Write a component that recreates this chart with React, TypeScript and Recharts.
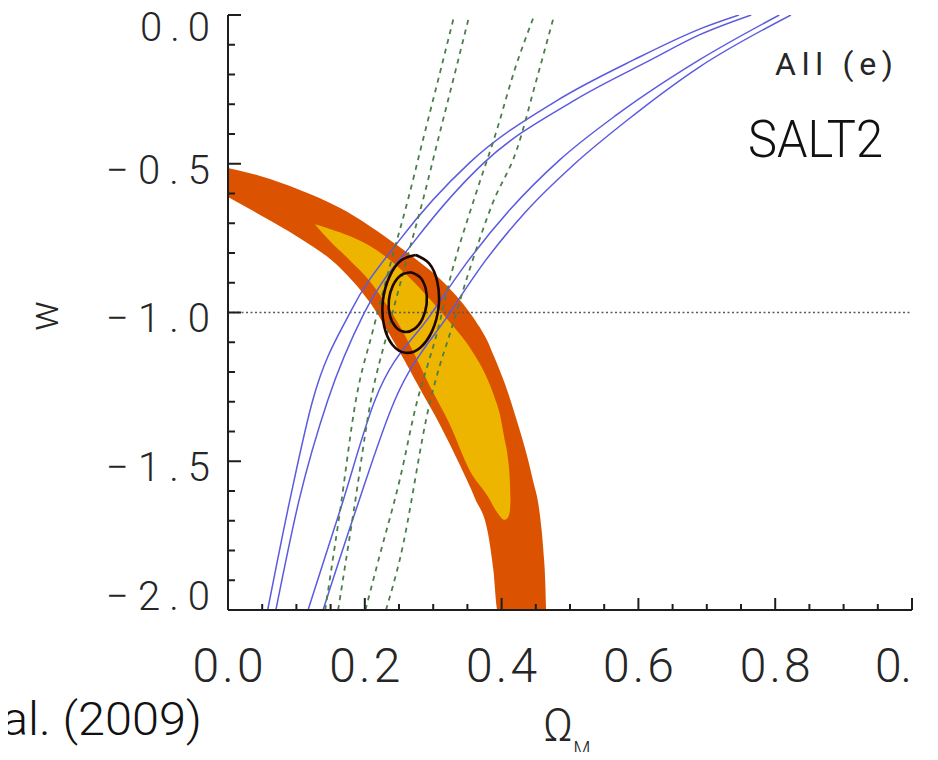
import React from "react";
import { ComposedChart, XAxis, YAxis, Line, Area, ReferenceLine } from "recharts";

// ---- axes ----
const xTicks = [0, 0.05, 0.1, 0.15, 0.2, 0.25, 0.3, 0.35, 0.4, 0.45, 0.5, 0.55, 0.6, 0.65, 0.7, 0.75, 0.8, 0.85, 0.9, 0.95, 1];
const xMajorTicks = [0, 0.2, 0.4, 0.6, 0.8, 1];
const xTickLabels = ["0.0", "0.2", "0.4", "0.6", "0.8", "0."];
const yTicks = [-2, -1.9, -1.8, -1.7, -1.6, -1.5, -1.4, -1.3, -1.2, -1.1, -1, -0.9, -0.8, -0.7, -0.6, -0.5, -0.4, -0.3, -0.2, -0.1, 0];
const yMajorTicks = [0, -0.5, -1, -1.5, -2];
const yTickLabels = ["0.0", "\u22120.5", "\u22121.0", "\u22121.5", "\u22122.0"];

// ---- SN contours (filled): 95% band and 68% band, as [lower, upper] in w per Omega_M ----
const orangeX = [0, 0.047, 0.105, 0.164, 0.207, 0.251, 0.28, 0.31, 0.339, 0.361, 0.38, 0.388, 0.394, 0.409, 0.422, 0.434, 0.445, 0.456, 0.461, 0.464, 0.465];
const orangeLower = [-0.612, -0.672, -0.75, -0.85, -0.965, -1.133, -1.254, -1.378, -1.513, -1.624, -1.741, -1.866, -2, -2, -2, -2, -2, -2, -2, -2, -2];
const orangeUpper = [-0.514, -0.541, -0.588, -0.649, -0.709, -0.78, -0.83, -0.887, -0.958, -1.025, -1.099, -1.143, -1.176, -1.267, -1.361, -1.455, -1.556, -1.681, -1.798, -1.916, -2];

const yellowX = [0.127, 0.149, 0.178, 0.207, 0.237, 0.266, 0.295, 0.324, 0.353, 0.383, 0.39, 0.397, 0.404, 0.409, 0.412, 0.413];
const yellowLower = [-0.703, -0.76, -0.824, -0.894, -0.992, -1.109, -1.247, -1.375, -1.529, -1.63, -1.66, -1.683, -1.697, -1.69, -1.668, -1.635];
const yellowUpper = [-0.703, -0.719, -0.743, -0.776, -0.824, -0.884, -0.955, -1.032, -1.116, -1.244, -1.287, -1.338, -1.422, -1.486, -1.563, -1.635];

// ---- BAO (blue solid) contour lines [Omega_M, w] ----
const blueA1 = [[0.058, -2.0], [0.0905, -1.63], [0.124, -1.294], [0.178, -1.002], [0.251, -0.756], [0.353, -0.497], [0.482, -0.286], [0.593, -0.151], [0.693, -0.044], [0.747, 0]];
const blueA2 = [[0.07, -2.0], [0.104, -1.63], [0.146, -1.294], [0.199, -1.002], [0.274, -0.756], [0.374, -0.497], [0.507, -0.286], [0.618, -0.151], [0.689, -0.067], [0.765, 0]];
const blueB1 = [[0.117, -2.0], [0.164, -1.664], [0.215, -1.294], [0.298, -1.002], [0.35, -0.83], [0.412, -0.655], [0.485, -0.487], [0.568, -0.336], [0.689, -0.151], [0.806, 0]];
const blueB2 = [[0.139, -2.0], [0.187, -1.664], [0.244, -1.294], [0.324, -1.002], [0.375, -0.83], [0.435, -0.662], [0.505, -0.504], [0.584, -0.353], [0.689, -0.175], [0.823, 0]];

// ---- CMB (green dashed) contour lines ----
const greenA1 = [[0.142, -2], [0.164, -1.664], [0.187, -1.294], [0.212, -1.059], [0.239, -0.824], [0.263, -0.622], [0.285, -0.42], [0.309, -0.202], [0.331, 0]];
const greenA2 = [[0.161, -2], [0.184, -1.664], [0.209, -1.294], [0.234, -1.059], [0.261, -0.824], [0.285, -0.622], [0.307, -0.42], [0.331, -0.202], [0.353, 0]];
const greenB1 = [[0.201, -2], [0.22, -1.832], [0.251, -1.563], [0.277, -1.294], [0.291, -1.183], [0.304, -1.082], [0.328, -0.857], [0.358, -0.632], [0.393, -0.387], [0.419, -0.185], [0.448, 0]];
const greenB2 = [[0.231, -2], [0.251, -1.832], [0.296, -1.294], [0.309, -1.183], [0.323, -1.082], [0.353, -0.857], [0.387, -0.632], [0.422, -0.454], [0.451, -0.218], [0.477, 0]];

// ---- combined (black) contours ----
const ellipseOuter = [[0.2745, -0.8067], [0.294, -0.8346], [0.3061, -0.8978], [0.3079, -0.9812], [0.2985, -1.0618], [0.281, -1.1183], [0.2597, -1.1355], [0.2403, -1.1082], [0.2282, -1.045], [0.2264, -0.9617], [0.2358, -0.881], [0.2533, -0.8245], [0.2745, -0.8067]];
const ellipseInner = [[0.2674, -0.8645], [0.2806, -0.881], [0.2891, -0.9203], [0.2904, -0.9714], [0.2844, -1.0205], [0.2726, -1.0551], [0.2581, -1.0652], [0.245, -1.0484], [0.2366, -1.0091], [0.2352, -0.958], [0.2412, -0.9089], [0.253, -0.8743], [0.2674, -0.8645]];

const referenceW = -1;

// ---- styling ----
const AXIS = "#1e1e1e";
const ORANGE = "#DB5300";
const YELLOW = "#EDB500";
const BLUE = "#5b5be0";
const GREEN = "#4a7f4a";
const BLACK = "#1d0600";
const TEXT = "#262626";
const FONT = "Roboto, 'Liberation Sans', Arial, sans-serif";

const toPts = (arr: number[][]) => arr.map(([x, w]) => ({ x, w }));
const band = (xs: number[], lo: number[], hi: number[]) => xs.map((x, i) => ({ x, w: [lo[i], hi[i]] }));

const orangeData = band(orangeX, orangeLower, orangeUpper);
const yellowData = band(yellowX, yellowLower, yellowUpper);

const findIdx = (arr: number[], v: number) => arr.findIndex((t) => Math.abs(t - v) < 1e-6);

const yLabelBaseline = [26, 20, 19, 20, 0];
const yLabelLength = [70, 104, 104, 104, 104];

function BottomTick(props: any) {
  const { x, y, payload } = props;
  const i = findIdx(xMajorTicks, payload.value);
  const last = i === xMajorTicks.length - 1;
  return (
    <g>
      <line x1={x} y1={y} x2={x} y2={y - (i >= 0 ? 12 : 6)} stroke={AXIS} strokeWidth={2} />
      {i >= 0 && (
        <text
          x={x}
          y={y + 72}
          textAnchor={last ? "end" : "middle"}
          fontSize={48}
          fontWeight={300}
          fontFamily={FONT}
          fill={TEXT}
          textLength={last ? 37 : 71}
          lengthAdjust="spacing"
        >
          {xTickLabels[i]}
        </text>
      )}
    </g>
  );
}

function TopTick(props: any) {
  const { x, y, payload } = props;
  const i = findIdx(xMajorTicks, payload.value);
  return <line x1={x} y1={y} x2={x} y2={y + (i >= 0 ? 13 : 7)} stroke={AXIS} strokeWidth={2} />;
}

function LeftTick(props: any) {
  const { x, y, payload } = props;
  const i = findIdx(yMajorTicks, payload.value);
  return (
    <g>
      <line x1={x} y1={y} x2={x + (i >= 0 ? 13 : 7)} y2={y} stroke={AXIS} strokeWidth={2} />
      {i >= 0 && (
        <text
          x={x - 18}
          y={y + yLabelBaseline[i]}
          textAnchor="end"
          fontSize={40}
          fontWeight={300}
          fontFamily={FONT}
          fill={TEXT}
          textLength={yLabelLength[i]}
          lengthAdjust="spacing"
        >
          {yTickLabels[i]}
        </text>
      )}
    </g>
  );
}

function RightTick(props: any) {
  const { x, y, payload } = props;
  const i = findIdx(yMajorTicks, payload.value);
  return <line x1={x} y1={y} x2={x - (i >= 0 ? 12 : 7)} y2={y} stroke={AXIS} strokeWidth={2} />;
}

const XLabel = () => (
  <text x={543} y={741} fontSize={46} fontWeight={300} fontFamily={FONT} fill={TEXT}>
    {"\u03A9"}
    <tspan fontSize={20} dy={15}>M</tspan>
  </text>
);

const YLabel = () => (
  <text
    x={44}
    y={316}
    transform="rotate(-90 44 316)"
    textAnchor="middle"
    dominantBaseline="central"
    fontSize={40}
    fontWeight={300}
    fontFamily={FONT}
    fill={TEXT}
  >
    w
  </text>
);

export default function App() {
  const axisLine = { stroke: AXIS, strokeWidth: 2 };
  const lineCommon = {
    xAxisId: "bottom",
    yAxisId: "left",
    dataKey: "w",
    dot: false,
    activeDot: false,
    isAnimationActive: false,
    legendType: "none" as const,
  };
  return (
    <div style={{ position: "relative", width: 938, height: 760, margin: -8, background: "#fff", overflow: "hidden" }}>
      <ComposedChart width={938} height={760} margin={{ top: 15, right: 26, bottom: 0, left: 0 }}>
        <XAxis
          xAxisId="bottom"
          type="number"
          dataKey="x"
          domain={[0, 1]}
          ticks={xTicks}
          interval={0}
          height={150}
          tickSize={0}
          tickMargin={0}
          tickLine={false}
          axisLine={axisLine}
          tick={BottomTick}
          allowDataOverflow
          label={<XLabel />}
        />
        <XAxis
          xAxisId="top"
          orientation="top"
          type="number"
          dataKey="x"
          domain={[0, 1]}
          ticks={xTicks}
          interval={0}
          height={0}
          tickSize={0}
          tickMargin={0}
          tickLine={false}
          axisLine={axisLine}
          tick={TopTick}
          allowDataOverflow
        />
        <YAxis
          yAxisId="left"
          type="number"
          domain={[-2, 0]}
          ticks={yTicks}
          interval={0}
          width={228}
          tickSize={0}
          tickMargin={0}
          tickLine={false}
          axisLine={axisLine}
          tick={LeftTick}
          allowDataOverflow
          label={<YLabel />}
        />
        <YAxis
          yAxisId="right"
          orientation="right"
          type="number"
          domain={[-2, 0]}
          ticks={yTicks}
          interval={0}
          width={0}
          tickSize={0}
          tickMargin={0}
          tickLine={false}
          axisLine={axisLine}
          tick={RightTick}
          allowDataOverflow
        />

        <Area
          xAxisId="bottom"
          yAxisId="left"
          data={orangeData}
          dataKey="w"
          type="monotone"
          fill={ORANGE}
          fillOpacity={1}
          stroke="none"
          dot={false}
          activeDot={false}
          isAnimationActive={false}
        />
        <Area
          xAxisId="bottom"
          yAxisId="left"
          data={yellowData}
          dataKey="w"
          type="monotone"
          fill={YELLOW}
          fillOpacity={1}
          stroke="none"
          dot={false}
          activeDot={false}
          isAnimationActive={false}
        />

        <ReferenceLine
          xAxisId="bottom"
          yAxisId="left"
          y={referenceW}
          stroke="#5a5a5a"
          strokeWidth={1.6}
          strokeDasharray="2 2.5"
        />

        {[blueA1, blueA2, blueB1, blueB2].map((d, k) => (
          <Line key={"b" + k} {...lineCommon} data={toPts(d)} type="monotone" stroke={BLUE} strokeWidth={1.5} />
        ))}
        {[greenA1, greenA2, greenB1, greenB2].map((d, k) => (
          <Line
            key={"g" + k}
            {...lineCommon}
            data={toPts(d)}
            type="monotone"
            stroke={GREEN}
            strokeWidth={1.8}
            strokeDasharray="5 5"
          />
        ))}
        {[ellipseOuter, ellipseInner].map((d, k) => (
          <Line key={"e" + k} {...lineCommon} data={toPts(d)} type="natural" stroke={BLACK} strokeWidth={2.6} />
        ))}
      </ComposedChart>

      <svg
        width={938}
        height={760}
        style={{ position: "absolute", left: 0, top: 0, pointerEvents: "none" }}
      >
        <text x={775} y={75} fontSize={32} fontWeight={400} fontFamily={FONT} fill={TEXT} textLength={118} lengthAdjust="spacing">
          All (e)
        </text>
        <text x={748} y={157} fontSize={51} fontWeight={300} fontFamily={FONT} fill="#111" textLength={135} lengthAdjust="spacingAndGlyphs">
          SALT2
        </text>
        <text x={2} y={735} fontSize={46} fontWeight={300} fontFamily={FONT} fill="#111" textLength={200} lengthAdjust="spacingAndGlyphs">
          al. (2009)
        </text>
      </svg>
    </div>
  );
}
